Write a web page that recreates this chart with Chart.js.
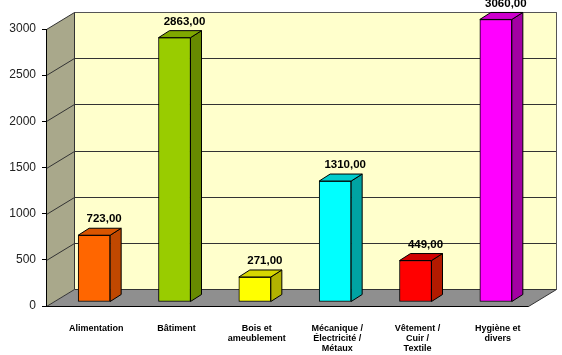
<!DOCTYPE html>
<html><head><meta charset="utf-8">
<script src="https://cdn.jsdelivr.net/npm/chart.js@4/dist/chart.umd.min.js"></script>
<style>html,body{margin:0;padding:0;background:#fff}canvas{display:block}</style>
</head><body>
<canvas id="c" width="562" height="355"></canvas>
<script>
const categories = [['Alimentation'], ['Bâtiment'], ['Bois et', 'ameublement'], ['Mécanique /', 'Électricité /', 'Métaux'], ['Vêtement /', 'Cuir /', 'Textile'], ['Hygiène et', 'divers']];
const values = [723, 2863, 271, 1310, 449, 3060];
const yTicks = [0, 500, 1000, 1500, 2000, 2500, 3000];
const frontColors = ['#FF6600', '#99CC00', '#FFFF00', '#00FFFF', '#FF0000', '#FF00FF'];
const sideColors = ['#C04800', '#678A00', '#B3B300', '#00A3A3', '#B31A00', '#A300A3'];
const topColors = ['#D95500', '#7FA800', '#D6D600', '#00CCCC', '#D00000', '#CC00CC'];

const WDX = 28, WDY = 17;   // wall depth
const BX = 8, BY = 4;       // bar plane offset
const BDX = 11, BDY = 7;    // bar depth

function poly(ctx, pts, fill, stroke) {
  ctx.beginPath();
  ctx.moveTo(pts[0][0], pts[0][1]);
  for (let i = 1; i < pts.length; i++) ctx.lineTo(pts[i][0], pts[i][1]);
  ctx.closePath();
  if (fill) { ctx.fillStyle = fill; ctx.fill(); }
  if (stroke) { ctx.strokeStyle = stroke; ctx.stroke(); }
}

const threeD = {
  id: 'threeD',
  beforeDraw(chart) {
    const { ctx, chartArea: a, scales: { y } } = chart;
    const L = Math.round(a.left) + 0.5, R = Math.round(a.right) + 0.5;
    const T = Math.round(y.getPixelForValue(yTicks[yTicks.length - 1])) + 0.5;
    const B = Math.round(y.getPixelForValue(0)) + 0.5;
    ctx.save();
    ctx.fillStyle = '#fff';
    ctx.fillRect(0, 0, chart.width, chart.height);
    ctx.lineWidth = 1;
    // back wall
    poly(ctx, [[L + WDX, T - WDY], [R + WDX, T - WDY], [R + WDX, B - WDY], [L + WDX, B - WDY]], '#FFFFCC', null);
    // side wall
    poly(ctx, [[L, T], [L + WDX, T - WDY], [L + WDX, B - WDY], [L, B]], '#A9A88B', null);
    // grid lines
    ctx.strokeStyle = '#333';
    yTicks.forEach(v => {
      if (v === 0) return;
      const py = Math.round(y.getPixelForValue(v)) + 0.5;
      ctx.beginPath();
      ctx.moveTo(L, py);
      ctx.lineTo(L + WDX, py - WDY);
      ctx.lineTo(R + WDX, py - WDY);
      ctx.stroke();
    });
    // wall outlines
    ctx.strokeStyle = '#555';
    ctx.beginPath();
    ctx.moveTo(L + WDX, T - WDY); ctx.lineTo(R + WDX, T - WDY); ctx.lineTo(R + WDX, B - WDY);
    ctx.stroke();
    ctx.strokeStyle = '#333';
    ctx.beginPath();
    ctx.moveTo(L + WDX, T - WDY); ctx.lineTo(L + WDX, B - WDY);
    ctx.stroke();
    // floor
    poly(ctx, [[L, B], [R, B], [R + WDX, B - WDY], [L + WDX, B - WDY]], '#8F8F8F', '#333');
    ctx.strokeStyle = '#000';
    ctx.beginPath(); ctx.moveTo(L - 4, B); ctx.lineTo(R, B); ctx.stroke();
    ctx.restore();
  },
  beforeDatasetsDraw(chart) {
    chart.ctx.save();
    chart.ctx.translate(BX, -BY);
  },
  afterDatasetsDraw(chart) {
    const ctx = chart.ctx;
    ctx.restore();
    const meta = chart.getDatasetMeta(0);
    ctx.save();
    ctx.lineWidth = 1;
    meta.data.forEach((el, i) => {
      const p = el.getProps(['x', 'y', 'base', 'width'], true);
      const l = p.x - p.width / 2 + BX, r = p.x + p.width / 2 + BX;
      const t = p.y - BY, b = p.base - BY;
      poly(ctx, [[r, t], [r + BDX, t - BDY], [r + BDX, b - BDY], [r, b]], sideColors[i], '#000');
      poly(ctx, [[l, t], [r, t], [r + BDX, t - BDY], [l + BDX, t - BDY]], topColors[i], '#000');
      ctx.fillStyle = '#000';
      ctx.font = 'bold 11.5px "Liberation Sans", Arial, sans-serif';
      ctx.textAlign = 'center';
      ctx.textBaseline = 'middle';
      ctx.fillText(values[i].toFixed(2).replace('.', ','), p.x + BX + 10, t - 16);
    });
    ctx.restore();
  }
};

new Chart(document.getElementById('c'), {
  type: 'bar',
  data: {
    labels: categories,
    datasets: [{
      data: values,
      backgroundColor: frontColors,
      borderColor: '#000',
      borderWidth: 1,
      borderSkipped: false,
      barThickness: 32,
      clip: false
    }]
  },
  options: {
    responsive: false,
    devicePixelRatio: 1,
    animation: false,
    layout: { padding: { top: 29, right: 34, left: 0, bottom: 0 } },
    plugins: { legend: { display: false }, tooltip: { enabled: false } },
    scales: {
      x: {
        grid: { display: false },
        border: { display: false },
        ticks: {
          color: '#000',
          font: { family: '"Liberation Sans", Arial, sans-serif', size: 9, weight: 'bold', lineHeight: 1.12 },
          padding: 9,
          labelOffset: 10,
          maxRotation: 0,
          autoSkip: false
        },
        afterFit(s) { s.height = 49; }
      },
      y: {
        min: 0,
        max: 3000,
        afterBuildTicks(s) { s.ticks = yTicks.map(v => ({ value: v })); },
        ticks: {
          color: '#222',
          font: { family: '"Liberation Sans", Arial, sans-serif', size: 12 },
          padding: 6,
          callback: v => String(v)
        },
        grid: { drawOnChartArea: false, drawTicks: true, tickLength: 4, color: '#000' },
        border: { display: true, color: '#000' },
        afterFit(s) { s.width = 46; }
      }
    }
  },
  plugins: [threeD]
});
</script>
</body></html>
